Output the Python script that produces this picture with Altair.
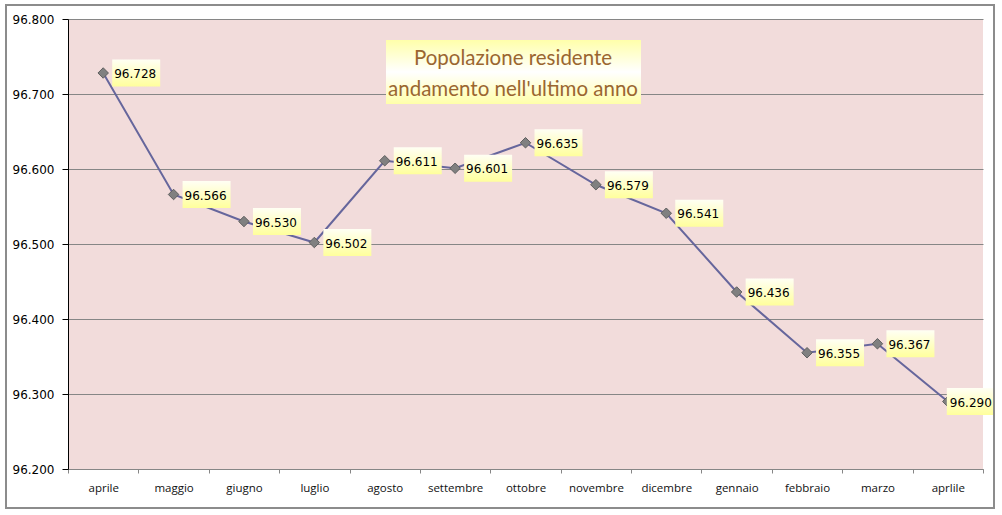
import altair as alt
import pandas as pd

MONTHS = ["aprile", "maggio", "giugno", "luglio", "agosto", "settembre", "ottobre",
          "novembre", "dicembre", "gennaio", "febbraio", "marzo", "aprlile"]
POP = [96728, 96566, 96530, 96502, 96611, 96601, 96635,
       96579, 96541, 96436, 96355, 96367, 96290]
Y_TICKS = [96200, 96300, 96400, 96500, 96600, 96700, 96800]
TITLE_LINES = ["Popolazione residente", "andamento nell'ultimo anno"]

df = pd.DataFrame({"mese": MONTHS, "pop": POP, "idx": list(range(len(MONTHS)))})
one = pd.DataFrame({"a": [0]})

W, H = 915, 450
GRID = "#868686"
FONT_NUM = "DejaVu Sans"

x_enc = alt.X("mese:N", sort=MONTHS,
              scale=alt.Scale(type="band", paddingInner=0, paddingOuter=0),
              axis=alt.Axis(title=None, labelAngle=0, tickBand="extent", tickSize=4,
                            tickColor=GRID, domainColor=GRID, labelFont="Open Sans",
                            labelFontSize=11.5, labelColor="#111111", labelPadding=9,
                            grid=False))
y_enc = alt.Y("pop:Q",
              scale=alt.Scale(domain=[96200, 96800], nice=False, zero=False),
              axis=alt.Axis(title=None, values=Y_TICKS, tickSize=6, tickColor="#000000",
                            domainColor="#000000", gridColor=GRID, gridOpacity=1,
                            labelFont=FONT_NUM, labelFontSize=12, labelColor="#000000",
                            labelPadding=8,
                            labelExpr="replace(format(datum.value, ','), ',', '.')"))

base = alt.Chart(df).encode(x=x_enc, y=y_enc)

line = base.mark_line(color="#66669c", strokeWidth=2)
pts = base.mark_point(shape="diamond", size=110, filled=True, opacity=1,
                      fill="#808080", stroke="#5f5f5f", strokeWidth=1)

label_grad = {"gradient": "linear", "x1": 0, "y1": 0, "x2": 0, "y2": 1,
              "stops": [{"offset": 0, "color": "#fffff4"},
                        {"offset": 1, "color": "#ffff9c"}]}

boxes = base.transform_filter("datum.idx < 12").mark_point(
    shape="M9,-13.5H57V13.5H9Z", size=4, filled=True, opacity=1,
    fill=label_grad, strokeWidth=0)
box_last = base.transform_filter("datum.idx == 12").mark_point(
    shape="M-1,-13.5H47V13.5H-1Z", size=4, filled=True, opacity=1,
    fill=label_grad, strokeWidth=0)

txt = base.transform_filter("datum.idx < 12").transform_calculate(
    lab="replace(format(datum.pop, ','), ',', '.')"
).mark_text(align="left", baseline="middle", dx=11, dy=1, font=FONT_NUM,
            fontSize=12, color="#000000").encode(text="lab:N")
txt_last = base.transform_filter("datum.idx == 12").transform_calculate(
    lab="replace(format(datum.pop, ','), ',', '.')"
).mark_text(align="left", baseline="middle", dx=2, dy=1, font=FONT_NUM,
            fontSize=12, color="#000000").encode(text="lab:N")

title_grad = {"gradient": "linear", "x1": 0, "y1": 0, "x2": 0, "y2": 1,
              "stops": [{"offset": 0, "color": "#ffffaa"},
                        {"offset": 0.5, "color": "#ffffff"},
                        {"offset": 1, "color": "#ffffaa"}]}
title_box = alt.Chart(one).mark_rect(fill=title_grad, strokeWidth=0).encode(
    x=alt.value(318), x2=alt.value(573), y=alt.value(21), y2=alt.value(85))
title_txt = alt.Chart(one).mark_text(
    text=TITLE_LINES, font="Lato", fontSize=20.5, lineHeight=31, color="#9a6630",
    align="center", baseline="middle").encode(x=alt.value(445), y=alt.value(40))

border = alt.Chart(one).mark_rect(fill=None, stroke="#8c8c8c", strokeWidth=2).encode(
    x=alt.value(-62), x2=alt.value(926), y=alt.value(-14), y2=alt.value(489))

chart = alt.layer(line, pts, boxes, box_last, txt, txt_last, title_box, title_txt, border).properties(
    width=W, height=H, autosize="none",
    padding={"left": 68, "top": 19, "right": 19, "bottom": 46},
    background="#ffffff"
).configure_view(fill="#f2dcdb", stroke=None)

chart.save("out.html", embed_options={"renderer": "svg", "actions": False})
